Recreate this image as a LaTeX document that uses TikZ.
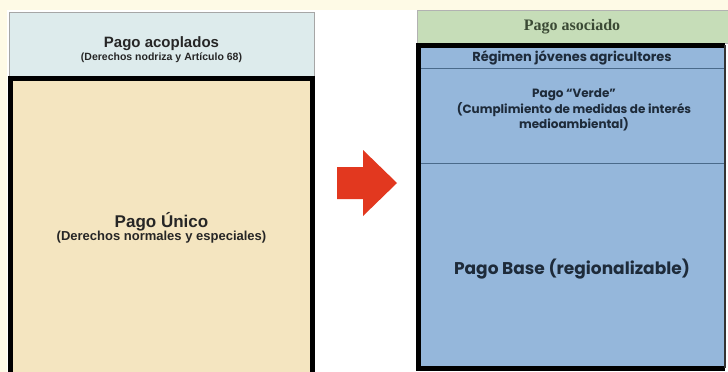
\documentclass[tikz,border=0pt]{standalone}
\usepackage{fontspec}
\setmainfont{Liberation Sans}
\newfontfamily\gothic{Poppins}
\newfontfamily\serifbold{Liberation Serif}
\definecolor{cream}{HTML}{FEFAE6}
\definecolor{paleblue}{HTML}{DDEBEC}
\definecolor{beige}{HTML}{F4E5C0}
\definecolor{palegreen}{HTML}{C6DDB8}
\definecolor{bandblue}{HTML}{95B7DB}
\definecolor{bandline}{HTML}{4A6A8A}
\definecolor{navytext}{HTML}{1E2B3A}
\definecolor{olivetext}{HTML}{3B4A35}
\definecolor{arrowred}{HTML}{E2381F}

\begin{document}
\begin{tikzpicture}[x=1pt, y=-1pt, line join=miter,
    frame/.style={line width=5pt, black},
    band/.style={draw=bandline, line width=0.8pt, fill=bandblue},
    lefttext/.style={align=center, inner sep=0pt, text=black!85},
    righttext/.style={align=center, inner sep=0pt, text=navytext}]

    \useasboundingbox (0,0) rectangle (728,372);
    \clip (0,0) rectangle (728,372);
    \fill[white] (0,0) rectangle (728,372);
    \fill[cream] (0,0) rectangle (728,10);
    \fill[cream] (0,0) rectangle (7,372);

    % antes
    \draw[draw=gray!70, fill=paleblue, line width=0.8pt] (9,12) rectangle (314,76);
    \fill[beige] (10,78) rectangle (312,380);
    \draw[frame] (10.5,380) -- (10.5,78) -- (312.5,78) -- (312.5,380);

    \node[lefttext] (acoplados) at (161.5,50)
        {\fontsize{15}{15}\bfseries\selectfont Pago acoplados\\[1pt]
         \fontsize{10.5}{11}\bfseries\selectfont (Derechos nodriza y Artículo 68)};
    \node[lefttext] (unico) at (161.5,228)
        {\fontsize{17}{17}\bfseries\selectfont Pago Único\\[-1pt]
         \fontsize{13}{13}\bfseries\selectfont (Derechos normales y especiales)};

    % flecha
    \fill[arrowred] (337,167) -- (363,167) -- (363,150) -- (397,183)
        -- (363,216) -- (363,199) -- (337,199) -- cycle;

    % despues
    \draw[draw=gray!60, fill=palegreen, line width=0.6pt] (417,10) rectangle (730,43);
    \draw[band] (418,47) rectangle (725,68);
    \draw[band] (418,68) rectangle (725,163);
    \draw[band] (418,163) rectangle (725,367);
    \draw[frame] (725,45) -- (418.5,45) -- (418.5,368) -- (725,368);
    \draw[line width=1.5pt, black!80] (725,45) -- (725,368);

    \node[text=olivetext, inner sep=0pt, font=\serifbold\fontsize{16}{16}\bfseries\selectfont]
        (asociado) at (572,27) {Pago asociado};
    \node[righttext, font=\gothic\fontsize{13}{13}\bfseries\selectfont]
        (jovenes) at (572,58) {Régimen jóvenes agricultores};
    \node[righttext, font=\gothic\fontsize{12}{13}\bfseries\selectfont]
        (verde) at (574,110) {Pago “Verde”\\
         (Cumplimiento de medidas de interés\\ medioambiental)};
    \node[righttext, font=\gothic\fontsize{17}{17}\bfseries\selectfont]
        (base) at (572,269) {Pago Base (regionalizable)};

\end{tikzpicture}
\end{document}
